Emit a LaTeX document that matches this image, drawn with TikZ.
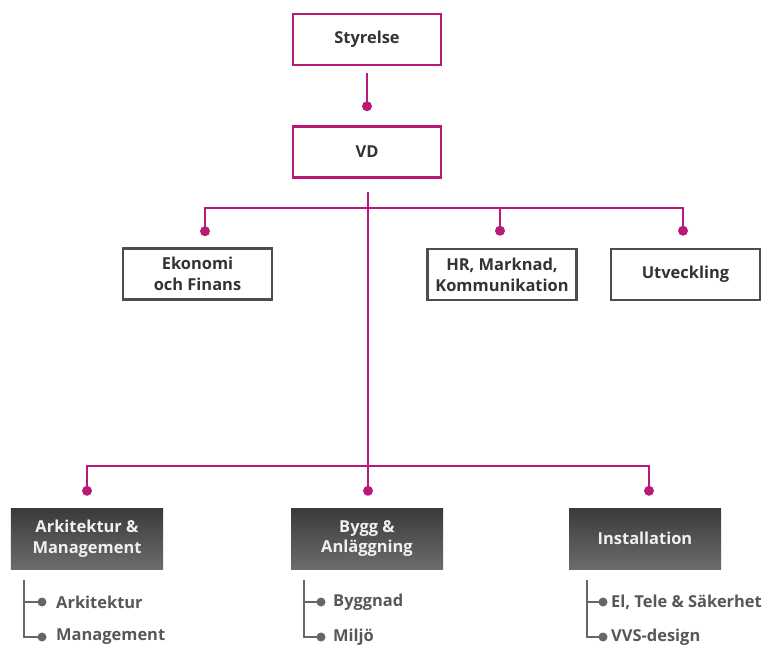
\documentclass[tikz,border=0pt]{standalone}
\usepackage{fontspec}
\setmainfont{Open Sans}
\usepackage{xcolor}
\usetikzlibrary{positioning,calc,shapes}

\definecolor{orgpink}{RGB}{184,26,120}
\definecolor{boxgray}{RGB}{77,77,77}
\definecolor{txtgray}{RGB}{51,51,51}
\definecolor{subgray}{RGB}{102,102,102}
\definecolor{darktop}{RGB}{58,58,58}
\definecolor{darkbot}{RGB}{108,108,108}

\tikzset{
  orgfont/.style={font=\fontsize{16.5}{21}\selectfont\bfseries},
  topbox/.style={rectangle, draw=orgpink, line width=2.5bp, fill=white, text=txtgray, orgfont, align=center, minimum width=148bp, minimum height=51bp, inner sep=0pt},
  unitbox/.style={rectangle, draw=boxgray, line width=2.5bp, fill=white, text=txtgray, orgfont, align=center, minimum width=149bp, minimum height=51bp, inner sep=0pt},
  areabox/.style={rectangle, top color=darktop, bottom color=darkbot, text=white!94!black, orgfont, align=center, minimum width=152bp, minimum height=61bp, inner sep=0pt},
  link/.style={draw=orgpink, line width=2bp},
  pinkdot/.style={circle, fill=orgpink, inner sep=0pt, minimum size=10bp},
  branch/.style={draw=subgray, line width=2bp},
  greydot/.style={circle, fill=subgray, inner sep=0pt, minimum size=9bp},
  subitem/.style={anchor=west, text=subgray!85!black, orgfont, inner sep=0pt}
}

\begin{document}
\begin{tikzpicture}[x=1bp, y=-1bp]
\useasboundingbox (0,0) rectangle (768,645);

% ledning
\node[topbox] (styr) at (367,39.5) {Styrelse};
\node[topbox] (vd) at (367,152) {VD};

% stab
\node[unitbox] (eko) at (197.5,274) {Ekonomi\\och Finans};
\node[unitbox] (hr) at (502,274.5) {HR, Marknad,\\Kommunikation};
\node[unitbox] (utv) at (685.5,274.5) {Utveckling};

% affärsområden
\node[areabox] (ark) at (87,538.5) {Arkitektur \&\\Management};
\node[areabox] (bygg) at (367,538.5) {Bygg \&\\Anläggning};
\node[areabox] (inst) at (645,538.5) {Installation};

\coordinate (split1) at (368,208);
\coordinate (split2) at (368,466);

\draw[link] ([yshift=-7bp]styr.south) -- ([yshift=19bp]vd.north) node[pinkdot] {};
\draw[link] ([xshift=1bp,yshift=-13bp]vd.south) -- (split2);

\draw[link, line join=miter] (split1) -| ([xshift=7.5bp,yshift=16bp]eko.north) node[pinkdot] {};
\draw[link, line join=miter] (split1) -| ([xshift=-2bp,yshift=17bp]hr.north) node[pinkdot] {};
\draw[link, line join=miter] (split1) -| ([xshift=-2.5bp,yshift=17bp]utv.north) node[pinkdot] {};

\draw[link, line join=miter] (split2) -| ([yshift=17bp]ark.north) node[pinkdot] {};
\draw[link] (split2) -- ([xshift=1bp,yshift=17bp]bygg.north) node[pinkdot] {};
\draw[link, line join=miter] (split2) -| ([xshift=4bp,yshift=17bp]inst.north) node[pinkdot] {};

% underavdelningar
\node[subitem] (arkA) at (56,602) {Arkitektur};
\node[subitem] (arkB) at (56,637) {Management};
\node[subitem] (byggA) at (333,602) {Byggnad};
\node[subitem] (byggB) at (333,637) {Miljö};
\node[subitem] (instA) at (611,602) {El, Tele \& Säkerhet};
\node[subitem] (instB) at (611,637) {VVS-design};

\coordinate (arkT) at ([xshift=13bp,yshift=-11bp]ark.south west);
\coordinate (byggT) at ([xshift=13bp,yshift=-11bp]bygg.south west);
\coordinate (instT) at ([xshift=18bp,yshift=-11bp]inst.south west);

\draw[branch] (arkT) |- ([xshift=-14bp]arkA.west) node[greydot] {};
\draw[branch] (arkT) |- ([xshift=-14bp]arkB.west) node[greydot] {};
\draw[branch] (byggT) |- ([xshift=-12bp]byggA.west) node[greydot] {};
\draw[branch] (byggT) |- ([xshift=-12bp]byggB.west) node[greydot] {};
\draw[branch] (instT) |- ([xshift=-8bp]instA.west) node[greydot] {};
\draw[branch] (instT) |- ([xshift=-8bp]instB.west) node[greydot] {};
\end{tikzpicture}
\end{document}
